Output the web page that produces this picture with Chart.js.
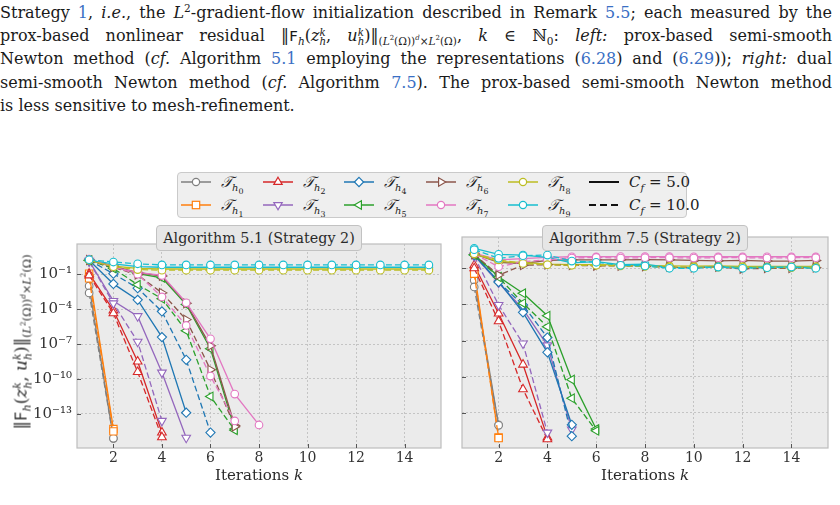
<!DOCTYPE html>
<html>
<head>
<meta charset="utf-8">
<script src="https://cdn.jsdelivr.net/npm/chart.js@4.4.0/dist/chart.umd.min.js"></script>
<style>
  body { margin: 0; width: 840px; height: 505px; background: #fff; position: relative; overflow: hidden;
         font-family: "DejaVu Serif", serif; color: #1a1a1a; }
  .cap { position: absolute; left: 0; top: 1px; width: 832px; font-size: 16px; line-height: 23.2px; }
  .cap div { text-align: justify; text-align-last: justify; height: 23.2px; white-space: nowrap; }
  .cap div.last { text-align-last: left; }
  .lnk { color: #3a6fc4; }
  sup, sub { line-height: 0; font-size: 0.66em; }
  .ss { display: inline-block; vertical-align: -0.42em; line-height: 0.95; font-size: 0.64em; }
  .ss span { display: block; }
  .tt { font-family: "DejaVu Sans Mono", monospace; font-size: 0.92em; }
  .panel { position: absolute; }
  .ttl { position: absolute; top: 225px; height: 26px; width: 206px; box-sizing: border-box; background: #e6e6e6;
         border: 1px solid #c2c2c2; border-radius: 4px; font-size: 14.3px; text-align: center; line-height: 24px;
         color: #2a2a2a; white-space: nowrap; }
  .xl { position: absolute; top: 466px; width: 200px; text-align: center; font-size: 15px; color: #2a2a2a; }
  .yl { position: absolute; left: 22px; top: 342px; transform: translate(-50%, -50%) rotate(-90deg); white-space: nowrap;
        font-size: 17px; color: #2a2a2a; }
  #legend { position: absolute; left: 177px; top: 172px; width: 510px; height: 46px; box-sizing: border-box;
            background: #efefef; border: 1px solid #cacaca; border-radius: 4px; }
  .li { position: absolute; height: 20px; display: flex; align-items: center; font-size: 15px; white-space: nowrap; color: #222; }
  .li svg { margin-right: 10px; }
</style>
</head>
<body>
<div class="cap">
  <div>Strategy <span class="lnk">1</span>, <i>i.e.</i>, the <i>L</i><sup>2</sup>-gradient-flow initialization described in Remark <span class="lnk">5.5</span>; each measured by the</div>
  <div>prox-based nonlinear residual &#8214;<span class="tt">F</span><sub><i>h</i></sub>(<i>z</i><span class="ss"><span><i>k</i></span><span><i>h</i></span></span>, <i>u</i><span class="ss"><span><i>k</i></span><span><i>h</i></span></span>)&#8214;<sub>(<i>L</i><sup>2</sup>(&Omega;))<sup><i>d</i></sup>&times;<i>L</i><sup>2</sup>(&Omega;)</sub>, <i>k</i> &isin; &#8469;<sub>0</sub>: <i>left:</i> prox-based semi-smooth</div>
  <div>Newton method (<i>cf.</i> Algorithm <span class="lnk">5.1</span> employing the representations (<span class="lnk">6.28</span>) and (<span class="lnk">6.29</span>)); <i>right:</i> dual</div>
  <div>semi-smooth Newton method (<i>cf.</i> Algorithm <span class="lnk">7.5</span>). The prox-based semi-smooth Newton method</div>
  <div class="last">is less sensitive to mesh-refinement.</div>
</div>

<div id="legend"></div>

<div class="panel" style="left:0;top:230px;width:450px;height:275px;"><canvas id="left"></canvas></div>
<div class="panel" style="left:455px;top:230px;width:380px;height:275px;"><canvas id="right"></canvas></div>

<div class="ttl" style="left:156px;">Algorithm 5.1 (Strategy 2)</div>
<div class="ttl" style="left:542px;">Algorithm 7.5 (Strategy 2)</div>
<div class="xl" style="left:159px;">Iterations <i>k</i></div>
<div class="xl" style="left:545px;">Iterations <i>k</i></div>
<div class="yl">&#8214;<span class="tt">F</span><sub><i>h</i></sub>(<i>z</i><span class="ss"><span><i>k</i></span><span><i>h</i></span></span>, <i>u</i><span class="ss"><span><i>k</i></span><span><i>h</i></span></span>)&#8214;<sub>(<i>L</i><sup>2</sup>(&Omega;))<sup><i>d</i></sup>&times;<i>L</i><sup>2</sup>(&Omega;)</sub></div>

<script>
const iterations = [1, 2, 3, 4, 5, 6, 7, 8, 9, 10, 11, 12, 13, 14, 15];
const meshSubs = ['0', '1', '2', '3', '4', '5', '6', '7', '8', '9'];
const meshColors = ['#7f7f7f', '#ff7f0e', '#d62728', '#9467bd', '#1f77b4', '#2ca02c', '#8c564b', '#e377c2', '#bcbd22', '#17becf'];
const meshMarkers = ['circle', 'rect', 'triangle', 'triangle', 'rectRot', 'triangle', 'triangle', 'circle', 'circle', 'circle'];
const meshRotation = [0, 0, 0, 180, 0, 270, 90, 0, 0, 0];
const meshRadius = [3.8, 5.2, 5, 5, 4.6, 5, 5, 3.8, 3.8, 3.8];
const cfLabels = ['5.0', '10.0'];
const xTickValues = [2, 4, 6, 8, 10, 12, 14];
const yTickExps = [-1, -4, -7, -10, -13];

// log10 of the residual, one row per mesh h0..h9
const alg51Cf5 = [
  [-2.0, -15.1],
  [-0.95, -14.3],
  [-0.95, -4.1, -8.5, -14.6],
  [0.15, -3.3, -4.6, -9.45, -15.05],
  [0.2, -1.83, -3.2, -6.4, -12.9],
  [0.2, -0.35, -0.95, -1.3, -3.6, -7.4, -14.3],
  [0.25, -0.3, -0.85, -1.15, -3.5, -7.15, -14.0],
  [0.3, -0.4, -0.83, -1.1, -3.45, -6.55, -11.3, -13.95],
  [0.2, -0.3, -0.5, -0.55, -0.55, -0.55, -0.55, -0.55, -0.55, -0.55, -0.55, -0.55, -0.55, -0.55, -0.55],
  [0.2, -0.1, -0.35, -0.4, -0.4, -0.4, -0.4, -0.4, -0.4, -0.4, -0.4, -0.4, -0.4, -0.4, -0.4]
];
const alg51Cf10 = [
  [-2.6, -15.1],
  [-1.35, -14.5],
  [-1.1, -4.35, -9.4, -15.0],
  [0.1, -3.5, -6.8, -13.6],
  [0.2, -0.95, -2.2, -4.2, -8.35, -14.6],
  [0.2, -0.5, -1.9, -3.1, -5.85, -11.5, -14.4],
  [0.2, -0.4, -1.05, -2.6, -4.9, -9.2, -14.1],
  [0.25, -0.35, -1.0, -2.95, -5.4, -9.75, -13.6],
  [0.2, -0.35, -0.6, -0.65, -0.65, -0.65, -0.65, -0.65, -0.65, -0.65, -0.65, -0.65, -0.65, -0.65, -0.65],
  [0.25, 0.05, -0.1, -0.2, -0.2, -0.2, -0.2, -0.2, -0.2, -0.2, -0.2, -0.2, -0.2, -0.2, -0.2]
];
const alg75Cf5 = [
  [-2.0, -14.0],
  [-1.2, -15.05],
  [-0.75, -4.75, -9.0, -15.05],
  [0.05, -2.2, -4.4, -7.4, -14.4],
  [0.1, -2.1, -4.66, -7.98, -14.0],
  [0.15, -1.7, -3.08, -4.94, -10.25, -14.35],
  [0.2, -0.5, -0.6, -0.35, -0.3, -0.3, -0.3, -0.28, -0.3, -0.35, -0.38, -0.35, -0.4, -0.4, -0.35],
  [0.25, -0.3, -0.2, -0.1, -0.04, -0.04, -0.03, -0.03, -0.03, -0.04, -0.04, -0.04, -0.04, -0.04, -0.04],
  [0.2, -0.45, -0.5, -0.65, -0.7, -0.7, -0.72, -0.75, -0.8, -0.82, -0.8, -0.85, -0.85, -0.85, -0.85],
  [0.66, 0.16, 0.1, -0.1, -0.55, -0.45, -0.7, -0.65, -0.95, -0.95, -0.85, -0.95, -0.9, -0.9, -0.95]
];
const alg75Cf10 = [
  [-2.55, -14.05],
  [-1.45, -15.1],
  [-1.0, -5.4, -11.05, -15.2],
  [0.0, -4.05, -7.25, -14.65],
  [0.1, -2.15, -4.05, -6.75, -14.95],
  [0.1, -1.75, -3.9, -5.85, -11.8, -14.5],
  [0.15, -1.56, -0.75, -0.7, -0.75, -0.8, -0.8, -0.85, -0.9, -0.95, -0.9, -1.05, -1.0, -1.0, -0.95],
  [0.2, -0.87, -0.45, -0.3, -0.15, -0.1, -0.15, -0.12, -0.12, -0.15, -0.12, -0.12, -0.15, -0.12, -0.12],
  [0.2, -0.3, -0.6, -0.7, -0.75, -0.75, -0.8, -0.85, -0.9, -0.9, -0.9, -0.9, -0.95, -0.95, -0.95],
  [0.55, -0.17, 0.05, 0.1, -0.4, -0.5, -0.75, -0.8, -1.0, -1.0, -0.9, -1.0, -0.95, -0.9, -1.0]
];

const SUP = {'-': '\u207B', '0': '\u2070', '1': '\u00B9', '2': '\u00B2', '3': '\u00B3', '4': '\u2074',
             '5': '\u2075', '6': '\u2076', '7': '\u2077', '8': '\u2078', '9': '\u2079'};
const powLabel = (v) => '10' + String(Math.round(Math.log10(v))).split('').map(c => SUP[c]).join('');

function buildSets(cf5, cf10) {
  const sets = [];
  [cf5, cf10].forEach((rows, c) => {
    rows.forEach((row, i) => {
      sets.push({
        data: row.map((e, j) => ({ x: iterations[j], y: Math.pow(10, e) })),
        borderColor: meshColors[i],
        backgroundColor: '#ffffff',
        pointBackgroundColor: '#ffffff',
        pointBorderColor: meshColors[i],
        borderWidth: 1.3,
        borderDash: c === 1 ? [6, 3] : [],
        pointStyle: meshMarkers[i],
        rotation: meshRotation[i],
        pointRadius: meshRadius[i],
        pointBorderWidth: 1.1,
        tension: 0,
        order: -(c * 10 + i)
      });
    });
  });
  return sets;
}

const framePlugin = {
  id: 'frame',
  beforeDraw(chart) {
    const a = chart.chartArea, ctx = chart.ctx;
    ctx.save();
    ctx.fillStyle = '#ebebeb';
    ctx.fillRect(a.left, a.top, a.right - a.left, a.bottom - a.top);
    ctx.restore();
  },
  afterDraw(chart) {
    const a = chart.chartArea, ctx = chart.ctx;
    ctx.save();
    ctx.strokeStyle = '#bdbdbd';
    ctx.lineWidth = 1.2;
    ctx.strokeRect(a.left, a.top, a.right - a.left, a.bottom - a.top);
    // short inward ticks like matplotlib
    ctx.strokeStyle = '#555';
    ctx.lineWidth = 1;
    const ys = chart.scales.y, xs = chart.scales.x;
    yTickExps.forEach(e => {
      const p = Math.round(ys.getPixelForValue(Math.pow(10, e))) + 0.5;
      ctx.beginPath(); ctx.moveTo(a.left, p); ctx.lineTo(a.left + 4, p); ctx.stroke();
    });
    xTickValues.forEach(v => {
      const p = Math.round(xs.getPixelForValue(v)) + 0.5;
      ctx.beginPath(); ctx.moveTo(p, a.bottom); ctx.lineTo(p, a.bottom - 4); ctx.stroke();
    });
    ctx.restore();
  }
};

function makeChart(id, sets, yWidth, padRight, showY) {
  return new Chart(document.getElementById(id).getContext('2d'), {
    type: 'line',
    data: { datasets: sets },
    plugins: [framePlugin],
    options: {
      responsive: true,
      maintainAspectRatio: false,
      animation: false,
      layout: { padding: { top: 7, right: padRight, left: 0, bottom: 0 } },
      plugins: { legend: { display: false }, tooltip: { enabled: false }, title: { display: false } },
      scales: {
        x: {
          type: 'linear',
          min: 0.5,
          max: 15.5,
          afterBuildTicks: s => { s.ticks = xTickValues.map(v => ({ value: v })); },
          afterFit: s => { s.height = 57; },
          ticks: { color: '#333', padding: 2, font: { family: 'DejaVu Serif', size: 14 } },
          grid: { color: '#c4c4c4', lineWidth: 1, drawTicks: false },
          border: { display: false, dash: [2, 2] }
        },
        y: {
          type: 'logarithmic',
          min: Math.pow(10, -15.93),
          max: Math.pow(10, 1.6),
          afterBuildTicks: s => { s.ticks = yTickExps.map(e => ({ value: Math.pow(10, e) })); },
          afterFit: s => { s.width = yWidth; },
          ticks: { display: showY, color: '#333', padding: 5, font: { family: 'DejaVu Serif', size: 15 },
                   callback: v => powLabel(v) },
          grid: { color: '#c4c4c4', lineWidth: 1, drawTicks: false },
          border: { display: false, dash: [2, 2] }
        }
      }
    }
  });
}

makeChart('left', buildSets(alg51Cf5, alg51Cf10), 77, 9, true);
makeChart('right', buildSets(alg75Cf5, alg75Cf10), 7, 7, false);

// shared legend
function markerSvg(i, dash) {
  const c = i === null ? '#111' : meshColors[i];
  let s = '<svg width="30" height="12" viewBox="0 0 30 12">';
  s += '<line x1="0" y1="6" x2="30" y2="6" stroke="' + c + '" stroke-width="' + (i === null ? 2 : 1.5) + '"' +
       (dash ? ' stroke-dasharray="7,4"' : '') + '/>';
  if (i !== null) {
    const st = ' fill="#fff" stroke="' + c + '" stroke-width="1.2"';
    const m = meshMarkers[i], r = meshRotation[i];
    if (m === 'circle') s += '<circle cx="15" cy="6" r="3.6"' + st + '/>';
    else if (m === 'rect') s += '<rect x="11.3" y="2.3" width="7.4" height="7.4"' + st + '/>';
    else if (m === 'rectRot') s += '<polygon points="15,1.4 19.6,6 15,10.6 10.4,6"' + st + '/>';
    else s += '<polygon points="15,1.2 19.2,8.4 10.8,8.4" transform="rotate(' + r + ' 15 6)"' + st + '/>';
  }
  return s + '</svg>';
}
const legend = document.getElementById('legend');
const colX = [3, 85, 166, 248, 330, 411];
const rowY = [-1, 22];
meshSubs.forEach((sub, i) => {
  const d = document.createElement('div');
  d.className = 'li';
  d.style.left = colX[Math.floor(i / 2)] + 'px';
  d.style.top = rowY[i % 2] + 'px';
  d.innerHTML = markerSvg(i, false) + '<span><i>&#119983;</i><sub><i>h</i><sub style="font-size:0.8em">' + sub + '</sub></sub></span>';
  legend.appendChild(d);
});
cfLabels.forEach((lab, k) => {
  const d = document.createElement('div');
  d.className = 'li';
  d.style.left = colX[5] + 'px';
  d.style.top = rowY[k] + 'px';
  d.innerHTML = markerSvg(null, k === 1) + '<span><i>C</i><sub><i>f</i></sub> = ' + lab + '</span>';
  legend.appendChild(d);
});
</script>
</body>
</html>
